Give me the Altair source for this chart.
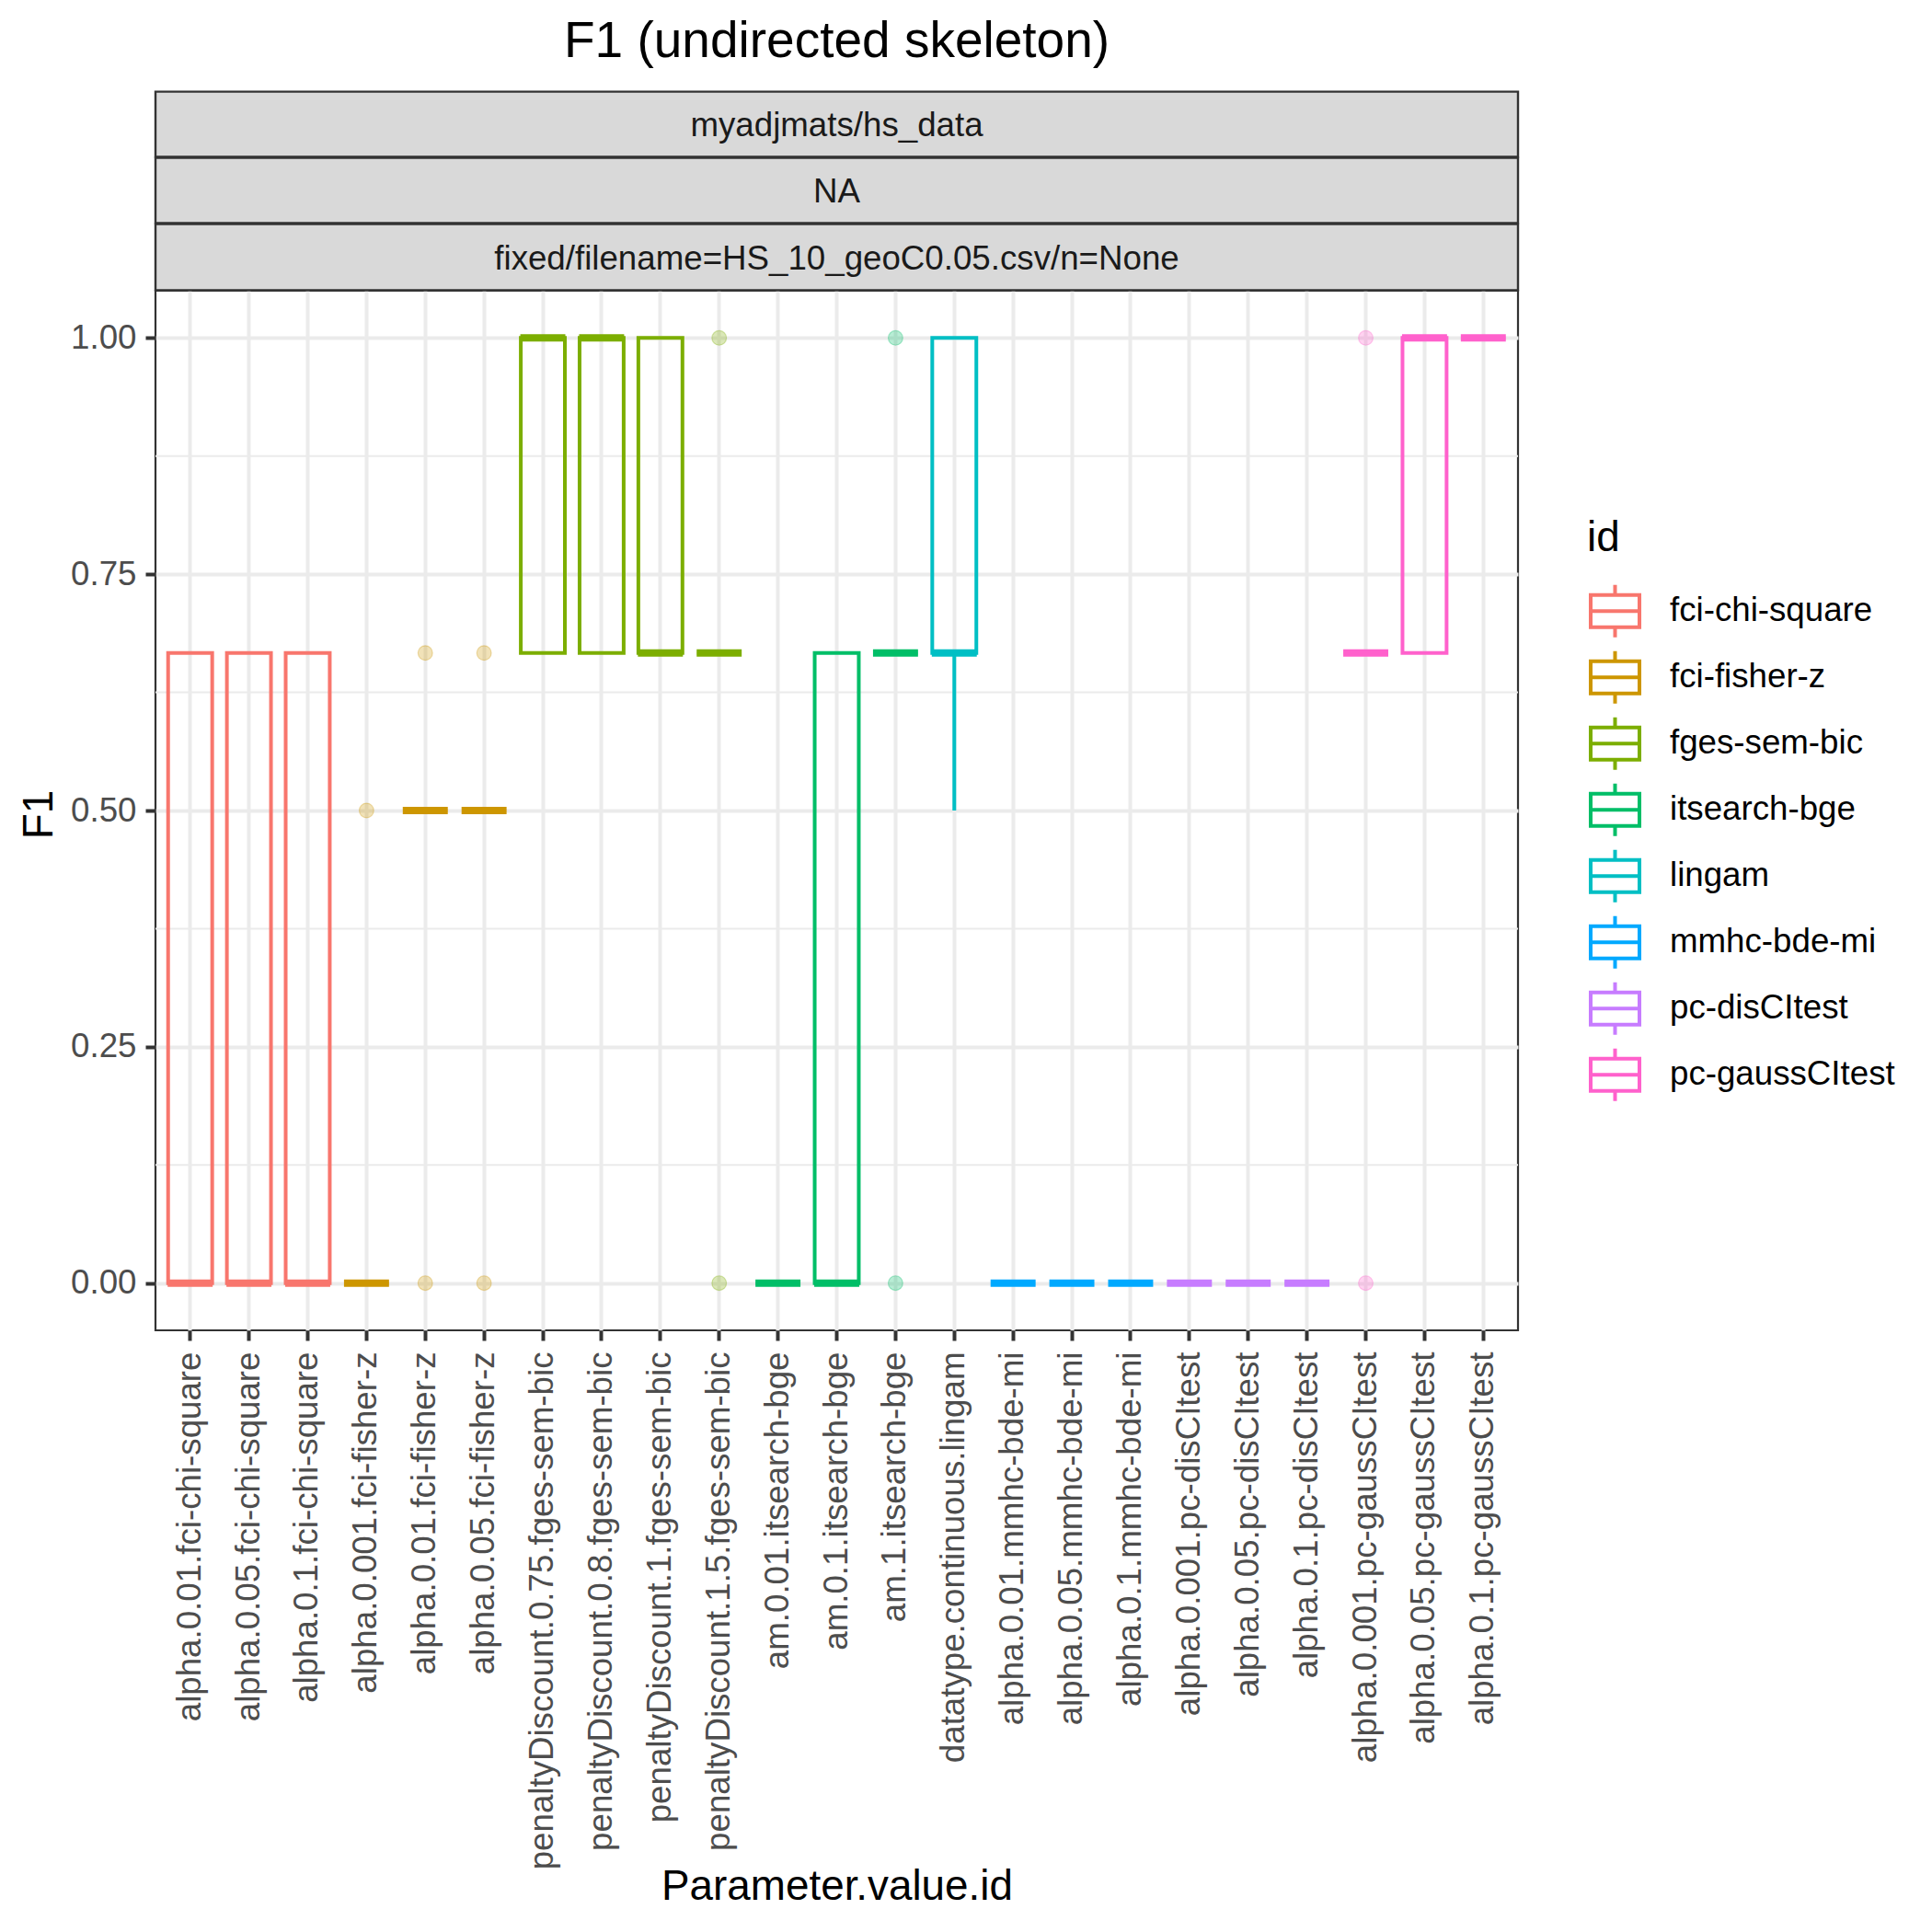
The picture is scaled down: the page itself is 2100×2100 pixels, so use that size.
import altair as alt
import pandas as pd

# ---------------- data ----------------
categories = [
    "alpha.0.01.fci-chi-square", "alpha.0.05.fci-chi-square", "alpha.0.1.fci-chi-square",
    "alpha.0.001.fci-fisher-z", "alpha.0.01.fci-fisher-z", "alpha.0.05.fci-fisher-z",
    "penaltyDiscount.0.75.fges-sem-bic", "penaltyDiscount.0.8.fges-sem-bic",
    "penaltyDiscount.1.fges-sem-bic", "penaltyDiscount.1.5.fges-sem-bic",
    "am.0.01.itsearch-bge", "am.0.1.itsearch-bge", "am.1.itsearch-bge",
    "datatype.continuous.lingam",
    "alpha.0.01.mmhc-bde-mi", "alpha.0.05.mmhc-bde-mi", "alpha.0.1.mmhc-bde-mi",
    "alpha.0.001.pc-disCItest", "alpha.0.05.pc-disCItest", "alpha.0.1.pc-disCItest",
    "alpha.0.001.pc-gaussCItest", "alpha.0.05.pc-gaussCItest", "alpha.0.1.pc-gaussCItest",
]
method_ids = [
    "fci-chi-square", "fci-chi-square", "fci-chi-square",
    "fci-fisher-z", "fci-fisher-z", "fci-fisher-z",
    "fges-sem-bic", "fges-sem-bic", "fges-sem-bic", "fges-sem-bic",
    "itsearch-bge", "itsearch-bge", "itsearch-bge",
    "lingam",
    "mmhc-bde-mi", "mmhc-bde-mi", "mmhc-bde-mi",
    "pc-disCItest", "pc-disCItest", "pc-disCItest",
    "pc-gaussCItest", "pc-gaussCItest", "pc-gaussCItest",
]
whisker_low = [0, 0, 0, 0, 0.5, 0.5, 0.6667, 0.6667, 0.6667, 0.6667, 0, 0, 0.6667, 0.5,
               0, 0, 0, 0, 0, 0, 0.6667, 0.6667, 1.0]
box_q1 = [0, 0, 0, 0, 0.5, 0.5, 0.6667, 0.6667, 0.6667, 0.6667, 0, 0, 0.6667, 0.6667,
          0, 0, 0, 0, 0, 0, 0.6667, 0.6667, 1.0]
box_median = [0, 0, 0, 0, 0.5, 0.5, 1.0, 1.0, 0.6667, 0.6667, 0, 0, 0.6667, 0.6667,
              0, 0, 0, 0, 0, 0, 0.6667, 1.0, 1.0]
box_q3 = [0.6667, 0.6667, 0.6667, 0, 0.5, 0.5, 1.0, 1.0, 1.0, 0.6667, 0, 0.6667, 0.6667, 1.0,
          0, 0, 0, 0, 0, 0, 0.6667, 1.0, 1.0]
whisker_high = [0.6667, 0.6667, 0.6667, 0, 0.5, 0.5, 1.0, 1.0, 1.0, 0.6667, 0, 0.6667, 0.6667, 1.0,
                0, 0, 0, 0, 0, 0, 0.6667, 1.0, 1.0]

outlier_category = [
    "alpha.0.001.fci-fisher-z",
    "alpha.0.01.fci-fisher-z", "alpha.0.01.fci-fisher-z",
    "alpha.0.05.fci-fisher-z", "alpha.0.05.fci-fisher-z",
    "penaltyDiscount.1.5.fges-sem-bic", "penaltyDiscount.1.5.fges-sem-bic",
    "am.1.itsearch-bge", "am.1.itsearch-bge",
    "alpha.0.001.pc-gaussCItest", "alpha.0.001.pc-gaussCItest",
]
outlier_value = [0.5, 0.6667, 0, 0.6667, 0, 1.0, 0, 1.0, 0, 1.0, 0]

id_levels = ["fci-chi-square", "fci-fisher-z", "fges-sem-bic", "itsearch-bge",
             "lingam", "mmhc-bde-mi", "pc-disCItest", "pc-gaussCItest"]
id_colors = ["#F8766D", "#CD9600", "#7CAE00", "#00BE67",
             "#00BFC4", "#00A9FF", "#C77CFF", "#FF61CC"]

y_major_ticks = [0.0, 0.25, 0.5, 0.75, 1.0]
y_minor_breaks = [0.125, 0.375, 0.625, 0.875]
y_domain = [-0.05, 1.05]

strip_labels = ["myadjmats/hs_data", "NA", "fixed/filename=HS_10_geoC0.05.csv/n=None"]
chart_title = "F1 (undirected skeleton)"
x_title = "Parameter.value.id"
y_title = "F1"
legend_title = "id"

# ---------------- layout ----------------
FONT = "Liberation Sans"
W, H = 1481, 1130
PAD_L, PAD_T = 161, 308
PAD_R = 2100 - 16 - PAD_L - W
PAD_B = 2100 - 16 - PAD_T - H
P_OUT = 0.09
STEP = W / (len(categories) + 2 * P_OUT)
BOX_W = 0.75 * STEP

box_df = pd.DataFrame({
    "category": categories, "id": method_ids,
    "lower": whisker_low, "q1": box_q1, "median": box_median,
    "q3": box_q3, "upper": whisker_high,
})
id_of = dict(zip(categories, method_ids))
out_df = pd.DataFrame({
    "category": outlier_category,
    "value": outlier_value,
    "id": [id_of[c] for c in outlier_category],
})

xscale = alt.Scale(domain=categories, paddingInner=0, paddingOuter=P_OUT)
yscale = alt.Scale(domain=y_domain, nice=False, zero=False)
cscale = alt.Scale(domain=id_levels, range=id_colors)
hollow_scale = alt.Scale(domain=id_levels, range=["transparent"] * len(id_levels))

x_axis = alt.Axis(
    title=x_title, labelAngle=-90, labelFontSize=36.7, labelColor="#4D4D4D",
    labelPadding=12, labelLimit=2000, tickSize=11, tickWidth=4, tickColor="#333333",
    domain=False, grid=True, gridColor="#EBEBEB", gridWidth=4, bandPosition=0.5,
    titleFontSize=45.8, titleFontWeight="normal", titleColor="black",
    titleBaseline="alphabetic", titleY=618, titleX=W / 2, titleAlign="center",
    labelFont=FONT, titleFont=FONT,
)
y_axis = alt.Axis(
    title=y_title, values=y_major_ticks, format=".2f", labelFontSize=36.7,
    labelColor="#4D4D4D", labelPadding=10, tickSize=11, tickWidth=4, tickColor="#333333",
    domain=False, grid=True, gridColor="#EBEBEB", gridWidth=4,
    titleFontSize=45.8, titleFontWeight="normal", titleColor="black",
    titleAngle=-90, titleBaseline="alphabetic", titleAlign="center",
    titleX=-113, titleY=569, labelFont=FONT, titleFont=FONT,
)

legend_symbol = "M-0.93,-0.614H0.93V0.614H-0.93Z M-0.93,0H0.93 M0,-0.614V-1 M0,0.614V1"
legend = alt.Legend(
    title=legend_title, orient="none", legendX=1556, legendY=247, padding=0,
    titleFontSize=45.8, titleFontWeight="normal", titleColor="black", titleFont=FONT,
    titlePadding=25, titleBaseline="top",
    labelFontSize=36.7, labelColor="black", labelFont=FONT, labelLimit=2000,
    labelOffset=29, rowPadding=-1,
    symbolType=legend_symbol, symbolSize=3249, symbolStrokeWidth=4,
)


def X():
    return alt.X("category:N", scale=xscale, axis=x_axis)


def Y(field):
    return alt.Y(field, scale=yscale, axis=y_axis)


def C():
    return alt.Color("id:N", scale=cscale, legend=None)


base_box = alt.Chart(box_df)

minor_grid = alt.Chart(pd.DataFrame({"v": y_minor_breaks})).mark_rule(
    color="#EBEBEB", strokeWidth=2
).encode(y=Y("v:Q"))

whisk_lo = base_box.mark_rule(strokeWidth=4, opacity=1).encode(
    x=X(), y=Y("lower:Q"), y2="q1:Q", color=C()
)
whisk_hi = base_box.mark_rule(strokeWidth=4, opacity=1).encode(
    x=X(), y=Y("q3:Q"), y2="upper:Q", color=C()
)
boxes = base_box.mark_bar(width=BOX_W, strokeWidth=4, opacity=1).encode(
    x=X(), y=Y("q1:Q"), y2="q3:Q",
    stroke=alt.Stroke("id:N", scale=cscale, legend=legend),
    fill=alt.Fill("id:N", scale=hollow_scale, legend=legend),
)
medians = base_box.mark_tick(thickness=8, size=BOX_W + 1, opacity=1).encode(
    x=X(), y=Y("median:Q"), color=C()
)
outliers = alt.Chart(out_df).mark_circle(size=249, opacity=0.28).encode(
    x=X(), y=Y("value:Q"), color=C()
)
outlier_rings = alt.Chart(out_df).mark_point(
    filled=False, size=249, strokeWidth=1.2, opacity=0.3
).encode(x=X(), y=Y("value:Q"), color=C())

# facet-style strips above the panel
strip_bounds = [(-217, -145), (-145, -73), (-73, 0)]
strip_baselines = [-168, -96, -23.4]
strip_layers = []
for lab, (t, b), bl in zip(strip_labels, strip_bounds, strip_baselines):
    d = pd.DataFrame({"label": [lab]})
    strip_layers.append(
        alt.Chart(d).mark_rect(fill="#D9D9D9", stroke="#333333", strokeWidth=2.4).encode(
            x=alt.value(0), x2=alt.value(W), y=alt.value(t + 0.6), y2=alt.value(b - 0.6)
        )
    )
    strip_layers.append(
        alt.Chart(d).mark_text(fontSize=36.7, color="#1A1A1A", font=FONT,
                               align="center", baseline="alphabetic").encode(
            x=alt.value(W / 2), y=alt.value(bl), text="label:N"
        )
    )

title_layer = alt.Chart(pd.DataFrame({"t": [chart_title]})).mark_text(
    fontSize=55, color="black", font=FONT, align="center", baseline="alphabetic"
).encode(x=alt.value(W / 2), y=alt.value(-254), text="t:N")

chart = alt.layer(
    minor_grid, boxes, whisk_lo, whisk_hi, medians, outliers, outlier_rings,
    *strip_layers, title_layer
).properties(
    width=W, height=H, autosize="none",
    padding={"left": PAD_L, "top": PAD_T, "right": PAD_R, "bottom": PAD_B},
    background="white",
).configure(
    font=FONT
).configure_view(
    stroke="#333333", strokeWidth=2.2
)

chart.save("out.html", embed_options={"renderer": "svg", "actions": False})
